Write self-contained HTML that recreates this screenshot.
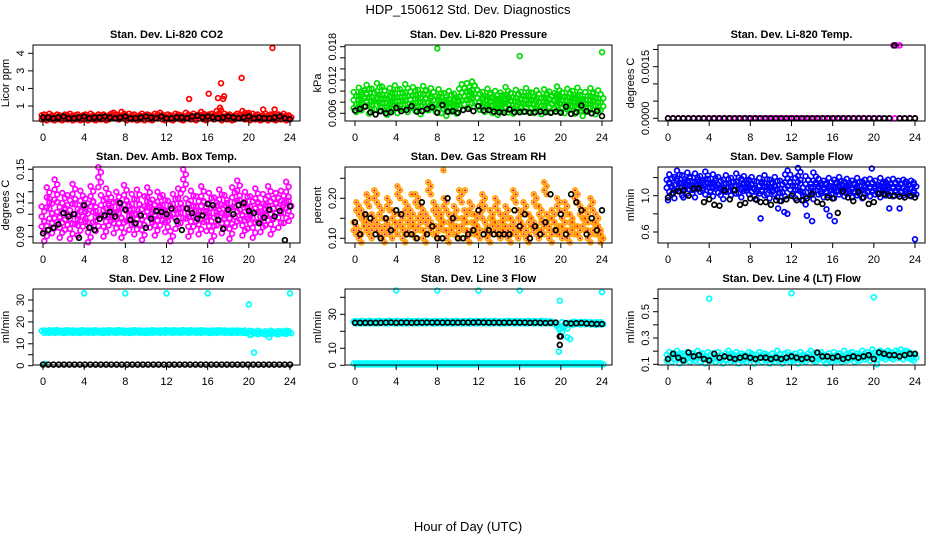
<!DOCTYPE html>
<html><head><meta charset="utf-8">
<style>
html,body{margin:0;padding:0;background:#fff;}
svg{display:block;font-family:"Liberation Sans",Arial,sans-serif;}
</style></head>
<body>
<svg id="chart" width="936" height="540" viewBox="0 0 936 540" xmlns="http://www.w3.org/2000/svg">
<rect x="0" y="0" width="936" height="540" fill="#fff"/>
<text x="468" y="14" text-anchor="middle" font-size="13">HDP_150612  Std. Dev. Diagnostics</text>
<text x="468" y="531" text-anchor="middle" font-size="13">Hour of Day (UTC)</text>
</svg>
<script>
const xTicks = [0,4,8,12,16,20,24];

const co2Red = [0.35,0.4,0.3,0.45,0.35,0.3,0.4,0.35,0.3,0.4,0.35,0.45,0.3,0.35,0.4,0.3,0.35,0.4,0.3,0.45,0.35,0.3,0.4,0.35,0.4,0.3,0.35,0.45,0.5,0.4,0.35,0.55,0.4,0.3,0.45,0.35,0.4,0.3,0.35,0.45,0.3,0.4,0.35,0.3,0.45,0.4,0.5,0.35,0.3,0.4,0.35,0.3,0.45,0.4,0.35,0.3,0.5,0.4,0.35,0.45,0.3,0.4,0.55,0.35,0.3,0.4,0.45,0.35,0.6,0.4,0.3,0.45,0.35,0.4,0.3,0.35,0.45,0.4,0.6,0.35,0.4,0.3,0.45,0.35,0.4,0.3,0.35,0.45,0.3,0.4,0.35,0.3,0.4,0.35,0.45,0.3,0.35];
const co2RedOutX = [14.2,16.1,17,17.3,17.5,17.6,17.2,17.3,19.3,21.4,22.3,22.5,20];
const co2RedOutY = [1.4,1.7,1.45,2.3,1.4,1.55,0.9,0.75,2.6,0.8,4.3,0.8,0.6];
const co2Black = [0.35,0.35,0.3,0.35,0.4,0.3,0.3,0.35,0.4,0.3,0.35,0.35,0.4,0.35,0.3,0.35,0.4,0.3,0.3,0.35,0.4,0.35,0.3,0.4,0.3,0.3,0.35,0.35,0.3,0.4,0.45,0.35,0.4,0.35,0.3,0.35,0.4,0.35,0.3,0.35,0.4,0.3,0.35,0.3,0.3,0.35,0.4,0.3,0.25];

const presGreen = [0.0082,0.0075,0.0090,0.0078,0.0085,0.0095,0.0072,0.0088,0.0080,0.0098,0.0076,0.0092,0.0084,0.0070,0.0089,0.0079,0.0094,0.0073,0.0087,0.0081,0.0096,0.0075,0.0083,0.0091,0.0077,0.0086,0.0071,0.0093,0.0084,0.0078,0.0089,0.0082,0.0075,0.0087,0.0073,0.0080,0.0068,0.0084,0.0076,0.0079,0.0072,0.0088,0.0096,0.0089,0.0098,0.0084,0.0101,0.0093,0.0086,0.0079,0.0082,0.0075,0.0088,0.0078,0.0073,0.0084,0.0070,0.0081,0.0077,0.0091,0.0074,0.0080,0.0072,0.0086,0.0078,0.0082,0.0075,0.0089,0.0076,0.0081,0.0073,0.0085,0.0079,0.0071,0.0087,0.0077,0.0083,0.0074,0.0080,0.0092,0.0076,0.0081,0.0073,0.0088,0.0079,0.0084,0.0072,0.0090,0.0077,0.0068,0.0082,0.0075,0.0089,0.0079,0.0071,0.0085,0.0078];
const presOutX = [8,16,24];
const presOutY = [0.0177,0.0163,0.0170];
const presBlack = [0.0065,0.0068,0.0072,0.0062,0.0058,0.0064,0.0060,0.0062,0.0070,0.0064,0.0066,0.0073,0.0063,0.0064,0.0068,0.0071,0.0061,0.0075,0.0063,0.0064,0.0061,0.0066,0.0068,0.0064,0.0073,0.0065,0.0066,0.0063,0.0062,0.0061,0.0067,0.0062,0.0062,0.0063,0.0061,0.0062,0.0063,0.0062,0.0061,0.0063,0.0061,0.0072,0.0059,0.0062,0.0074,0.0064,0.0060,0.0064,0.0055];

const tempMag = [0,0,0,0,0,0,0,0,0,0,0,0,0,0,0,0,0,0,0,0,0,0,0,0,0,0,0,0,0,0,0,0,0,0,0,0,0,0,0,0,0,0,0,0,0,0,0,0,0,0];
const tempOutX = [21.9,22.2,22.5];
const tempOutY = [0.00212,0.00212,0.00212];
const tempBlack = [0,0,0,0,0,0,0,0,0,0,0,0,0,0,0,0,0,0,0,0,0,0,0,0,0,0,0,0,0,0,0,0,0,0,0,0,0,0,0,0,0,0,0,0,0.00212,0,0,0,0];

const ambMag = [0.108,0.095,0.125,0.115,0.102,0.132,0.112,0.098,0.120,0.105,0.118,0.097,0.128,0.110,0.100,0.122,0.108,0.115,0.094,0.126,0.112,0.104,0.143,0.118,0.099,0.124,0.109,0.116,0.102,0.121,0.111,0.098,0.127,0.113,0.105,0.119,0.101,0.123,0.110,0.096,0.117,0.125,0.107,0.114,0.100,0.121,0.109,0.118,0.103,0.113,0.086,0.119,0.106,0.124,0.111,0.141,0.115,0.099,0.122,0.108,0.117,0.101,0.126,0.112,0.104,0.120,0.095,0.116,0.109,0.123,0.102,0.118,0.111,0.097,0.125,0.108,0.131,0.114,0.100,0.121,0.106,0.117,0.098,0.124,0.112,0.103,0.119,0.109,0.126,0.101,0.115,0.120,0.107,0.122,0.111,0.130,0.113];
const ambBlack = [0.093,0.096,0.098,0.101,0.111,0.108,0.110,0.089,0.118,0.098,0.096,0.106,0.109,0.112,0.108,0.120,0.114,0.105,0.102,0.109,0.098,0.106,0.113,0.112,0.110,0.115,0.104,0.096,0.115,0.111,0.106,0.109,0.119,0.118,0.105,0.097,0.114,0.110,0.118,0.120,0.113,0.111,0.102,0.107,0.114,0.108,0.113,0.087,0.117];

const rhOrange = [0.12,0.17,0.10,0.15,0.13,0.19,0.11,0.14,0.20,0.12,0.16,0.10,0.13,0.18,0.11,0.15,0.12,0.21,0.14,0.10,0.17,0.12,0.15,0.11,0.19,0.13,0.16,0.10,0.14,0.22,0.12,0.17,0.11,0.15,0.13,0.18,0.10,0.14,0.12,0.16,0.11,0.20,0.13,0.15,0.10,0.17,0.12,0.14,0.11,0.16,0.19,0.12,0.10,0.15,0.13,0.18,0.11,0.14,0.12,0.16,0.10,0.13,0.20,0.11,0.15,0.12,0.17,0.10,0.14,0.13,0.19,0.11,0.16,0.12,0.22,0.14,0.10,0.15,0.12,0.18,0.11,0.13,0.17,0.10,0.14,0.12,0.20,0.11,0.16,0.13,0.15,0.10,0.18,0.12,0.14,0.11,0.09];
const rhOutX = [8.6,5.5,10.7];
const rhOutY = [0.27,0.21,0.22];
const rhBlack = [0.14,0.11,0.16,0.15,0.11,0.10,0.15,0.12,0.17,0.16,0.11,0.11,0.10,0.19,0.11,0.13,0.10,0.10,0.20,0.15,0.10,0.10,0.11,0.12,0.17,0.11,0.12,0.11,0.11,0.11,0.11,0.17,0.13,0.16,0.10,0.13,0.11,0.14,0.21,0.12,0.16,0.11,0.21,0.19,0.17,0.11,0.15,0.12,0.17];

const flowBlue = [1.12,1.18,1.05,1.15,1.22,1.08,1.17,1.10,1.20,1.14,1.06,1.19,1.12,1.16,1.09,1.21,1.13,1.07,1.18,1.11,1.15,1.04,1.12,1.17,1.08,1.14,1.10,1.19,1.06,1.13,1.16,1.09,1.12,1.15,1.03,1.10,1.14,1.08,1.17,1.05,1.12,1.09,1.15,1.02,1.11,1.07,1.18,1.22,1.10,1.05,1.14,1.25,1.08,0.98,1.16,1.12,1.04,1.20,1.09,1.13,1.06,1.11,1.08,1.14,1.05,1.12,1.09,1.15,1.07,1.10,1.13,1.06,1.11,1.08,1.14,1.05,1.10,1.12,1.07,1.13,1.09,1.11,1.06,1.14,1.08,1.10,1.12,1.07,1.13,1.09,1.11,1.08,1.12,1.10,1.07,1.11,1.09];
const flowOutX = [0,1.5,9.0,11.3,11.6,13.5,14.0,15.4,15.7,16.2,19.8,24,21.5,22.5,10.7];
const flowOutY = [0.95,0.98,0.75,0.82,0.80,0.78,0.72,0.85,0.78,0.72,1.30,0.52,0.86,0.86,0.86];
const flowBlack = [0.98,1.03,1.05,1.06,1.00,1.08,1.08,0.93,0.96,0.90,0.89,1.06,0.96,1.06,0.90,0.92,0.97,0.96,0.93,0.93,0.90,0.95,0.94,0.96,1.00,0.95,0.95,0.97,1.02,0.93,0.91,0.98,0.97,0.81,1.05,0.98,0.94,1.04,0.98,0.91,0.93,1.02,1.02,1.00,1.00,0.99,0.98,1.00,0.98];

const l2Cyan = [15.5,15.6,15.4,15.7,15.5,15.6,15.8,15.5,15.4,15.6,15.7,15.5,15.6,15.5,15.4,15.6,15.7,15.5,15.6,15.5,15.6,15.7,15.5,15.4,15.6,15.5,15.7,15.6,15.5,15.6,15.8,15.5,15.6,15.4,15.5,15.6,15.7,15.5,15.6,15.5,15.4,15.6,15.5,15.7,15.6,15.5,15.6,15.5,15.8,15.6,15.5,15.7,15.6,15.5,15.6,15.8,15.5,15.6,15.7,15.5,15.6,15.5,15.7,15.6,15.5,15.4,15.6,15.5,15.6,15.7,15.5,15.6,15.5,15.4,15.6,15.5,15.6,15.5,15.4,15.6,14.5,15.5,15.2,14.8,15.5,15.0,14.6,15.3,14.8,15.5,15.1,14.7,15.4,15.2,15.0,15.5,15.3];
const l2OutX = [4,8,12,16,24,20,20.2,20.5,22,0.2];
const l2OutY = [33,33,33,33,33,28,14,6,13,0.8];
const l2Black = [0.5,0.5,0.5,0.5,0.5,0.5,0.5,0.5,0.5,0.5,0.5,0.5,0.5,0.5,0.5,0.5,0.5,0.5,0.5,0.5,0.5,0.5,0.5,0.5,0.5,0.5,0.5,0.5,0.5,0.5,0.5,0.5,0.5,0.5,0.5,0.5,0.5,0.5,0.5,0.5,0.5,0.5,0.5,0.5,0.5,0.5,0.5,0.5];

const l3Cyan = [25.2,25.4,25.1,25.5,25.3,25.2,25.6,25.3,25.1,25.4,25.5,25.2,25.3,25.4,25.6,25.2,25.3,25.5,25.1,25.4,25.3,25.6,25.2,25.4,25.3,25.5,25.2,25.3,25.6,25.4,25.1,25.3,25.5,25.2,25.4,25.3,25.6,25.2,25.3,25.4,25.5,25.2,25.3,25.4,25.1,25.6,25.3,25.2,25.5,25.4,25.3,25.6,25.2,25.3,25.4,25.5,25.1,25.3,25.2,25.4,25.6,25.3,25.2,25.5,25.3,25.4,25.1,25.3,25.5,25.2,25.4,25.3,25.2,25.5,25.3,25.4,25.2,25.1,24.5,22.5,20.2,24.8,22.2,16.0,24.5,24.8,25.0,24.6,24.9,24.7,25.0,24.6,24.8,24.5,24.7,24.6,24.8];
const l3OutX = [4,8,12,16,24,19.9,19.8];
const l3OutY = [44,44,44,44,43,38,8];
const l3Low = [0.5,0.5,0.5,0.5,0.5,0.5,0.5,0.5,0.5,0.5,0.5,0.5,0.5,0.5,0.5,0.5,0.5,0.5,0.5,0.5,0.5,0.5,0.5,0.5,0.5,0.5,0.5,0.5,0.5,0.5,0.5,0.5,0.5,0.5,0.5,0.5,0.5,0.5,0.5,0.5,0.5,0.5,0.5,0.5,0.5,0.5,0.5,0.5,0.5,0.5,0.5,0.5,0.5,0.5,0.5,0.5,0.5,0.5,0.5,0.5,0.5,0.5,0.5,0.5,0.5,0.5,0.5,0.5,0.5,0.5,0.5,0.5,0.5,0.5,0.5,0.5,0.5,0.5,0.5,0.5,0.5,0.5,0.5,0.5,0.5,0.5,0.5,0.5,0.5,0.5,0.5,0.5,0.5,0.5,0.5,0.5,0.5];
const l3Black = [25.0,25.0,25.0,25.0,25.0,25.0,25.1,25.2,25.0,25.1,25.1,25.0,25.1,25.1,25.2,25.1,25.2,25.1,25.1,25.1,25.1,25.2,25.2,25.2,25.3,25.2,25.1,25.1,25.1,25.1,25.1,25.2,25.1,25.1,25.0,25.1,25.0,24.9,25.0,25.1,17.0,24.8,24.6,24.7,24.9,24.6,24.4,24.3,24.3];
const l3BlackOutX = [19.9,19.9];
const l3BlackOutY = [17,12];

const l4Cyan = [0.15,0.17,0.14,0.16,0.18,0.13,0.16,0.15,0.17,0.14,0.16,0.15,0.18,0.14,0.16,0.13,0.17,0.15,0.16,0.14,0.17,0.15,0.13,0.16,0.18,0.14,0.15,0.17,0.13,0.16,0.15,0.14,0.17,0.16,0.13,0.15,0.17,0.14,0.16,0.15,0.13,0.16,0.14,0.18,0.15,0.13,0.16,0.17,0.14,0.15,0.16,0.13,0.17,0.15,0.14,0.16,0.18,0.15,0.14,0.16,0.17,0.15,0.13,0.16,0.14,0.17,0.15,0.16,0.14,0.18,0.15,0.16,0.17,0.14,0.16,0.15,0.18,0.16,0.17,0.15,0.19,0.17,0.16,0.18,0.17,0.16,0.18,0.17,0.16,0.18,0.17,0.19,0.16,0.18,0.17,0.16,0.15];
const l4OutX = [4,12,20,20.3];
const l4OutY = [0.60,0.64,0.61,0.10];
const l4Black = [0.14,0.18,0.15,0.13,0.19,0.16,0.17,0.14,0.13,0.18,0.15,0.16,0.15,0.14,0.15,0.16,0.15,0.14,0.15,0.15,0.14,0.15,0.14,0.15,0.16,0.15,0.14,0.15,0.14,0.19,0.16,0.16,0.15,0.16,0.14,0.15,0.16,0.15,0.16,0.17,0.14,0.19,0.18,0.17,0.17,0.16,0.17,0.18,0.18];

const SVGNS = "http://www.w3.org/2000/svg";
const svg = document.getElementById('chart');
function mk(tag, attrs, parent){const e=document.createElementNS(SVGNS,tag);for(const k in attrs)e.setAttribute(k,attrs[k]);(parent||svg).appendChild(e);return e;}
function evenHours(arr){return arr.map((_,i)=>i*24/(arr.length-1));}

// spread: pixel offsets for drawing a dense band around each value (style only)
const panels = [
 {name:'co2',title:'Stan. Dev. Li-820 CO2',ylab:'Licor ppm',c:0,r:0,v1:1,p1:61,v2:4,p2:8.3,ticks:[1,2,3,4],labels:[1,2,3,4],lfmt:v=>String(v),
  series:[{col:'red',y:co2Red,spread:[-2,0,2]},{col:'red',x:co2RedOutX,y:co2RedOutY},{col:'#000',y:co2Black}]},
 {name:'pressure',title:'Stan. Dev. Li-820 Pressure',ylab:'kPa',c:1,r:0,v1:0.006,p1:68.3,v2:0.018,p2:1.7,ticks:[0.006,0.008,0.010,0.012,0.014,0.016,0.018],labels:[0.006,0.012,0.018],lfmt:v=>v.toFixed(3),
  series:[{col:'#00dd00',y:presGreen,spread:[-9,-5,-1,3,7]},{col:'#00dd00',x:presOutX,y:presOutY},{col:'#000',y:presBlack}]},
 {name:'li820-temp',title:'Stan. Dev. Li-820 Temp.',ylab:'degrees C',c:2,r:0,v1:0,p1:73.3,v2:0.0015,p2:21.7,ticks:[0,0.0005,0.001,0.0015,0.002],labels:[0,0.0015],lfmt:v=>v.toFixed(4),
  series:[{col:'#ff00ff',y:tempMag,spread:[0]},{col:'#ff00ff',x:tempOutX,y:tempOutY},{col:'#000',y:tempBlack}]},
 {name:'amb-box-temp',title:'Stan. Dev. Amb. Box Temp.',ylab:'degrees C',c:0,r:1,v1:0.09,p1:69.7,v2:0.15,p2:2.3,ticks:[0.09,0.10,0.11,0.12,0.13,0.14,0.15],labels:[0.09,0.12,0.15],lfmt:v=>v.toFixed(2),
  series:[{col:'#ff00ff',y:ambMag,spread:[-10,-5,0,5,10]},{col:'#000',y:ambBlack}]},
 {name:'gas-stream-rh',title:'Stan. Dev. Gas Stream RH',ylab:'percent',c:1,r:1,v1:0.10,p1:71.3,v2:0.20,p2:31.3,ticks:[0.10,0.15,0.20,0.25],labels:[0.10,0.20],lfmt:v=>v.toFixed(2),
  series:[{col:'#ffa500',fill:'red',y:rhOrange,spread:[-8,-4,0,4]},{col:'#ffa500',fill:'red',x:rhOutX,y:rhOutY},{col:'#000',y:rhBlack}]},
 {name:'sample-flow',title:'Stan. Dev. Sample Flow',ylab:'ml/min',c:2,r:1,v1:0.6,p1:65,v2:1.0,p2:28.7,ticks:[0.6,0.8,1.0,1.2],labels:[0.6,1.0],lfmt:v=>v.toFixed(1),
  series:[{col:'#0000ff',y:flowBlue,spread:[-5,-1,3,7]},{col:'#0000ff',x:flowOutX,y:flowOutY},{col:'#000',y:flowBlack}]},
 {name:'line2-flow',title:'Stan. Dev. Line 2 Flow',ylab:'ml/min',c:0,r:2,v1:0,p1:76.7,v2:30,p2:11,ticks:[0,5,10,15,20,25,30],labels:[0,10,20,30],lfmt:v=>String(v),
  series:[{col:'#00ffff',y:l2Cyan,spread:[-1,1]},{col:'#00ffff',x:l2OutX,y:l2OutY},{col:'#000',y:l2Black}]},
 {name:'line3-flow',title:'Stan. Dev. Line 3 Flow',ylab:'ml/min',c:1,r:2,v1:0,p1:76.3,v2:30,p2:25.3,ticks:[0,10,20,30,40],labels:[0,10,30],lfmt:v=>String(v),
  series:[{col:'#00ffff',y:l3Cyan,spread:[-1,1]},{col:'#00ffff',y:l3Low,spread:[-1,0]},{col:'#00ffff',x:l3OutX,y:l3OutY},{col:'#000',y:l3Black},{col:'#000',x:l3BlackOutX,y:l3BlackOutY}]},
 {name:'line4-flow',title:'Stan. Dev. Line 4 (LT) Flow',ylab:'ml/min',c:2,r:2,v1:0.1,p1:75.3,v2:0.5,p2:22.7,ticks:[0.1,0.2,0.3,0.4,0.5,0.6],labels:[0.1,0.3,0.5],lfmt:v=>v.toFixed(1),
  series:[{col:'#00ffff',y:l4Cyan,spread:[-3,0,3]},{col:'#00ffff',x:l4OutX,y:l4OutY},{col:'#000',y:l4Black}]}
];

panels.forEach(p=>{
  const x0 = 43 + 312*p.c + (p.c===2?1:0);
  const top = 45 + 122*p.r, bot = top + 76;
  const left = x0 - 10, right = x0 + 257;
  const xs = h => x0 + h*247/24;
  const ys = v => top + p.p1 + (v - p.v1)*(p.p2 - p.p1)/(p.v2 - p.v1);
  const g = mk('g',{});
  
  
  const t = mk('text',{x:(left+right)/2,y:top-7,'text-anchor':'middle','font-size':11,'font-weight':'bold'},g);
  t.textContent = p.title;
  
  
  const pg = mk('g',{},g);
  
  
  p.series.forEach(s=>{
    const hx = s.x || evenHours(s.y);
    const offs = s.spread || [0];
    s.y.forEach((v,i)=>{
      offs.forEach((dy,k)=>{
        const cy = ys(v) + dy;
        const cx = xs(hx[i]) + (offs.length>1 ? ((k%2)?1.3:-1.3) : 0);
        if (cy < top-2 || cy > bot+2) return;
        const c = mk('circle',{cx:cx.toFixed(1),cy:cy.toFixed(1),r:2.4,fill:'none',stroke:s.col,'stroke-width':1.7},pg);
        
        
        if (s.fill) mk('circle',{cx:cx.toFixed(1),cy:cy.toFixed(1),r:1.1,fill:s.fill},pg);
      });
    });
  });
  const b = mk('rect',{x:left,y:top,width:right-left,height:bot-top,fill:'none',stroke:'#000','stroke-width':1},g);
  
  
  const xa = mk('g',{},g);
  
  
  xTicks.forEach(h=>{
    mk('line',{x1:xs(h),x2:xs(h),y1:bot,y2:bot+5,stroke:'#000'},xa);
    const tl = mk('text',{x:xs(h),y:bot+20,'text-anchor':'middle','font-size':11},xa);
    tl.textContent = h;
    
    
  });
  const ya = mk('g',{},g);
  
  
  p.ticks.forEach(v=>{
    const y = ys(v);
    mk('line',{x1:left-5,x2:left,y1:y,y2:y,stroke:'#000'},ya);
  });
  p.labels.forEach(v=>{
    const y = ys(v);
    const tl = mk('text',{x:0,y:0,'text-anchor':'middle','font-size':11,transform:`translate(${left-9},${y}) rotate(-90)`},ya);
    tl.textContent = p.lfmt(v);
    
    
  });
  const yl = mk('text',{x:0,y:0,'text-anchor':'middle','font-size':11,transform:`translate(${left-24},${(top+bot)/2}) rotate(-90)`},g);
  yl.textContent = p.ylab;
  
  
});
</script>
</body></html>
